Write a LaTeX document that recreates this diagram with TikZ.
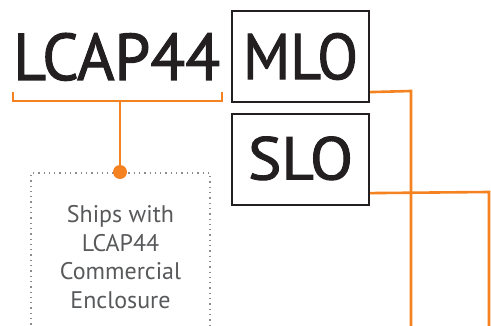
\documentclass[tikz,border=0pt]{standalone}
\usepackage{fontspec}
\setmainfont{PT Sans}
\newfontfamily\bigfont{PT Sans}[FakeBold=1.6]
\usepackage{graphicx}
\definecolor{ink}{HTML}{231F20}
\definecolor{orng}{HTML}{F58220}
\definecolor{txtgray}{HTML}{58595B}
\definecolor{dotgray}{HTML}{8C8C8C}
\tikzset{
  labbox/.style={draw=ink, line width=2.2pt, inner sep=0pt, minimum width=137pt, minimum height=91pt, text=ink, font=\bigfont},
  orline/.style={draw=orng, line width=2.6pt},
  dotbox/.style={draw=dotgray, line width=1.3pt, dash pattern=on 1.3pt off 4pt},
}
\begin{document}
\begin{tikzpicture}[x=1pt,y=-1pt]
\useasboundingbox (0,0) rectangle (491,326);
% big label
\node[anchor=base west, inner sep=0pt, text=ink, font=\bigfont] (lcap) at (13,80) {\resizebox{207pt}{47pt}{LCAP44}};
% boxes
\node[labbox] (mlo) at (300.5,56.5) {\resizebox{115pt}{46pt}{MLO}};
\node[labbox] (slo) at (300.5,159.5) {\raisebox{3pt}{\resizebox{105pt}{43pt}{SLO}}};
% bracket
\coordinate (bl) at (13,92);
\coordinate (br) at (222,92);
\coordinate (bm) at (120,101);
\coordinate (dot) at (120,172);
\draw[orline] (bl) -- (bl |- bm) -- (br |- bm) -- (br);
\draw[orline] (bm) -- (dot);
% dotted box
\coordinate (dbl) at (31,330);
\coordinate (dbr) at (210,330);
\draw[dotbox] (dbl) -- (31,173) -- (210,173) -- (dbr);
\fill[orng] (dot) circle (7pt);
% description
\node[text=txtgray, align=center, font=\fontsize{24}{28.5}\selectfont, inner sep=0pt] (desc) at (120.5,257) {Ships with\\LCAP44\\Commercial\\Enclosure};
% connectors
\coordinate (m1) at (411,91);
\coordinate (mend) at (411,330);
\coordinate (s1) at (489,192);
\coordinate (send) at (489,330);
\draw[orline] ([yshift=11pt]mlo.south east) -- (m1) -- (mend);
\draw[orline] ([yshift=13pt]slo.south east) -- (s1) -- (send);
\end{tikzpicture}
\end{document}
